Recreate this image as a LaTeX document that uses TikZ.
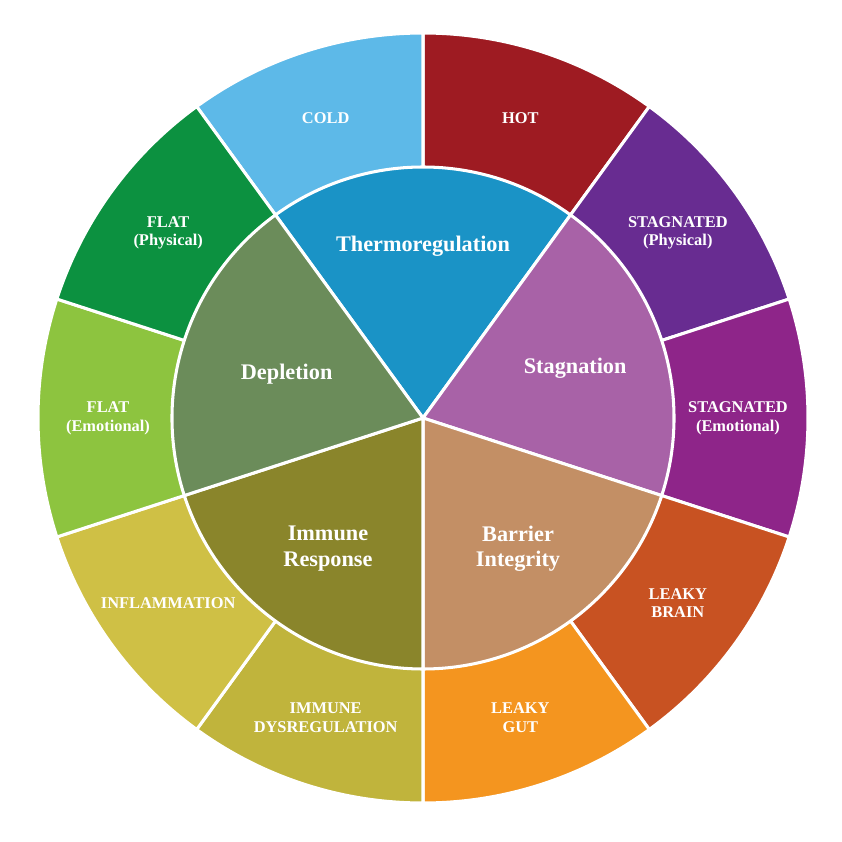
\documentclass[tikz,border=0pt]{standalone}
\usepackage{fontspec}
\setmainfont{Liberation Serif}
\definecolor{cCold}{HTML}{5DB9E8}
\definecolor{cHot}{HTML}{9E1B22}
\definecolor{cStagP}{HTML}{682C91}
\definecolor{cStagE}{HTML}{8E2589}
\definecolor{cBrain}{HTML}{C85222}
\definecolor{cGut}{HTML}{F4951F}
\definecolor{cDysreg}{HTML}{C0B43C}
\definecolor{cInfl}{HTML}{CFC045}
\definecolor{cFlatE}{HTML}{8DC43F}
\definecolor{cFlatP}{HTML}{0C9140}
\definecolor{cThermo}{HTML}{1A93C6}
\definecolor{cStag}{HTML}{A862A7}
\definecolor{cBarrier}{HTML}{C38F65}
\definecolor{cImmune}{HTML}{8A852B}
\definecolor{cDepl}{HTML}{6B8C5A}
\tikzset{
  sector/.style={draw=white,line width=2.6pt,line join=round},
  outerlbl/.style={text=white,font=\bfseries\fontsize{14}{16}\selectfont,align=center},
  innerlbl/.style={text=white,font=\bfseries\fontsize{19}{22}\selectfont,align=center}
}
\begin{document}
\begin{tikzpicture}
    \useasboundingbox (-12.69,-12.72) rectangle (12.57,12.54);
    % outer ring
    \foreach \a/\c/\t in {54/cHot/HOT, 90/cCold/COLD, 18/cStagP/{STAGNATED\\(Physical)},
        -18/cStagE/{STAGNATED\\(Emotional)}, -54/cBrain/{LEAKY\\BRAIN}, -90/cGut/{LEAKY\\GUT},
        234/cDysreg/{IMMUNE\\DYSREGULATION}, 198/cInfl/INFLAMMATION,
        162/cFlatE/{FLAT\\(Emotional)}, 126/cFlatP/{FLAT\\(Physical)}}{
        \fill[\c,sector] (0,0) -- (\a:11.55) arc[start angle=\a, delta angle=36, radius=11.55] -- cycle;
        \node[outerlbl] at (\a+18:9.45) {\t};
    }
    % inner wheel
    \foreach \a/\c/\r/\t in {54/cThermo/5.15/Thermoregulation, -18/cStag/4.8/Stagnation,
        -90/cBarrier/4.85/{Barrier\\Integrity}, 198/cImmune/4.85/{Immune\\Response},
        126/cDepl/4.3/Depletion}{
        \fill[\c,sector] (0,0) -- (\a:7.53) arc[start angle=\a, delta angle=72, radius=7.53] -- cycle;
        \node[innerlbl] at (\a+36:\r) {\t};
    }
\end{tikzpicture}
\end{document}
